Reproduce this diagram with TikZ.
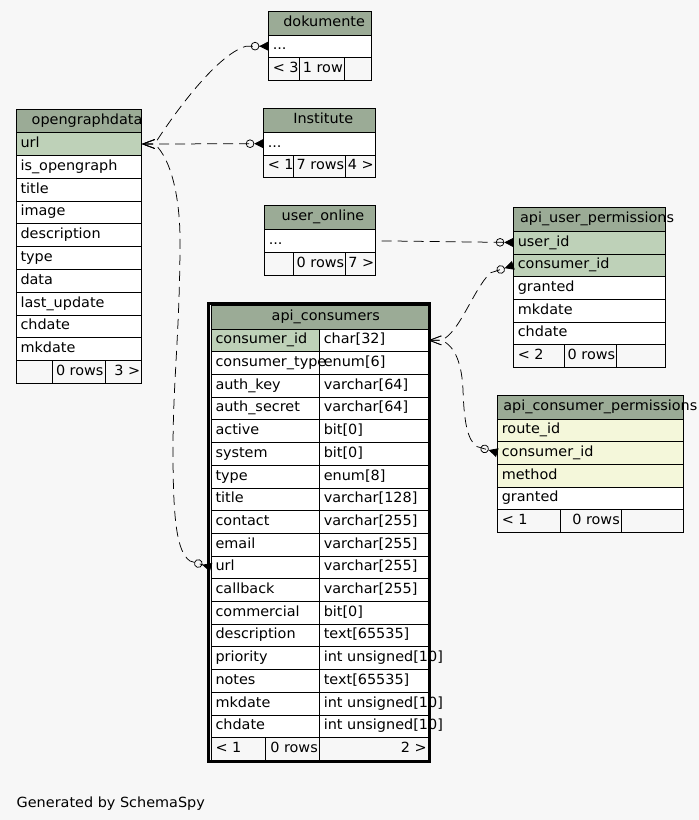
\documentclass[tikz,border=0pt]{standalone}
\usepackage{fontspec}
\setmainfont{DejaVu Sans}[FakeStretch=1.03]
\usetikzlibrary{arrows.meta,calc}
\definecolor{hdr}{HTML}{9BAB96}
\definecolor{pkc}{HTML}{BED1B8}
\definecolor{idx}{HTML}{F4F7DA}
\definecolor{bgc}{HTML}{F7F7F7}
\pgfdeclarelayer{cells}
\pgfsetlayers{cells,main}
\tikzset{
  cellbox/.style={draw=black, line width=0.75pt, anchor=north west, inner sep=0pt, outer sep=0pt},
  celltxt/.style={inner sep=0pt, outer sep=0pt, anchor=west, text height=10.5pt, text depth=3.5pt, font=\fontsize{14}{16}\selectfont},
  rel/.style={draw=black, line width=0.75pt, dash pattern=on 10pt off 6pt},
  relarrows/.style={arrows={Straight Barb[length=12pt,width=9pt,line width=0.75pt]-Circle[open,length=8.5pt,width=8.5pt,line width=0.75pt] Triangle[reversed,length=9pt,width=9pt]}},
  manyonly/.style={arrows={-Circle[open,length=8.5pt,width=8.5pt,line width=0.75pt] Triangle[reversed,length=9pt,width=9pt]}}
}
% cell: name, x1, y1, x2, y2, fill, text (left aligned)
\newcommand\tcell[7]{%
  \pgfmathsetmacro\cw{#4-#2}\pgfmathsetmacro\ch{#5-#3}%
  \begin{pgfonlayer}{cells}\node[cellbox,fill=#6,minimum width=\cw pt,minimum height=\ch pt] (#1) at (#2,#3) {};\end{pgfonlayer}%
  \node[celltxt] (#1-t) at ([xshift=4.5pt]#1.west) {#7};}
% footer cell, right aligned text
\newcommand\rcell[6]{%
  \pgfmathsetmacro\cw{#4-#2}\pgfmathsetmacro\ch{#5-#3}%
  \begin{pgfonlayer}{cells}\node[cellbox,fill=bgc,minimum width=\cw pt,minimum height=\ch pt] (#1) at (#2,#3) {};\end{pgfonlayer}%
  \node[celltxt,anchor=east] (#1-t) at ([xshift=-1.5pt]#1.east) {#6};}
% title: name, x1, y1, x2, y2, text x, text
\newcommand\ttitle[7]{%
  \pgfmathsetmacro\cw{#4-#2}\pgfmathsetmacro\ch{#5-#3}\pgfmathsetmacro\cy{(#3+#5)/2}%
  \begin{pgfonlayer}{cells}\node[cellbox,fill=hdr,minimum width=\cw pt,minimum height=\ch pt] (#1) at (#2,#3) {};\end{pgfonlayer}%
  \node[celltxt] (#1-t) at (#6,\cy) {#7};}
\begin{document}
\begin{tikzpicture}[x=1pt,y=-1pt]
\useasboundingbox (0,0) rectangle (699,820);
\begin{pgfonlayer}{cells}\fill[bgc] (0,0) rectangle (699,820);\end{pgfonlayer}

% dokumente
\ttitle{doku-h}{268.3}{11}{371}{35}{283.3}{dokumente}
\tcell{doku-r1}{268.3}{35}{371}{57.3}{white}{...}
\tcell{doku-f1}{268.3}{57.3}{299.7}{80.3}{bgc}{< 3}
\rcell{doku-f2}{299.7}{57.3}{344.3}{80.3}{1 row}
\rcell{doku-f3}{344.3}{57.3}{371}{80.3}{}

% Institute
\ttitle{inst-h}{263.3}{108.3}{375.3}{132.3}{293.3}{Institute}
\tcell{inst-r1}{263.3}{132.3}{375.3}{155}{white}{...}
\tcell{inst-f1}{263.3}{155}{293.3}{177.3}{bgc}{< 1}
\rcell{inst-f2}{293.3}{155}{345.7}{177.3}{7 rows}
\rcell{inst-f3}{345.7}{155}{375.3}{177.3}{4 >}

% opengraphdata
\ttitle{ogd-h}{16}{109}{141.7}{132.7}{31.7}{opengraphdata}
\tcell{ogd-r1}{16}{132.7}{141.7}{155.3}{pkc}{url}
\tcell{ogd-r2}{16}{155.3}{141.7}{178.7}{white}{is\_opengraph}
\tcell{ogd-r3}{16}{178.7}{141.7}{201}{white}{title}
\tcell{ogd-r4}{16}{201}{141.7}{223.7}{white}{image}
\tcell{ogd-r5}{16}{223.7}{141.7}{246.7}{white}{description}
\tcell{ogd-r6}{16}{246.7}{141.7}{269.3}{white}{type}
\tcell{ogd-r7}{16}{269.3}{141.7}{292}{white}{data}
\tcell{ogd-r8}{16}{292}{141.7}{315}{white}{last\_update}
\tcell{ogd-r9}{16}{315}{141.7}{337.7}{white}{chdate}
\tcell{ogd-r10}{16}{337.7}{141.7}{360.3}{white}{mkdate}
\tcell{ogd-f1}{16}{360.3}{52.7}{383.3}{bgc}{}
\rcell{ogd-f2}{52.7}{360.3}{105}{383.3}{0 rows}
\rcell{ogd-f3}{105}{360.3}{141.7}{383.3}{3 >}

% user_online
\ttitle{uo-h}{264.3}{205}{375.7}{229.3}{281.7}{user\_online}
\tcell{uo-r1}{264.3}{229.3}{375.7}{252.3}{white}{...}
\tcell{uo-f1}{264.3}{252.3}{293.3}{275}{bgc}{}
\rcell{uo-f2}{293.3}{252.3}{345.7}{275}{0 rows}
\rcell{uo-f3}{345.7}{252.3}{375.7}{275}{7 >}

% api_user_permissions
\ttitle{aup-h}{513.3}{207.3}{665}{231}{520}{api\_user\_permissions}
\tcell{aup-r1}{513.3}{231}{665}{254}{pkc}{user\_id}
\tcell{aup-r2}{513.3}{254}{665}{276.7}{pkc}{consumer\_id}
\tcell{aup-r3}{513.3}{276.7}{665}{299.3}{white}{granted}
\tcell{aup-r4}{513.3}{299.3}{665}{322}{white}{mkdate}
\tcell{aup-r5}{513.3}{322}{665}{344.7}{white}{chdate}
\tcell{aup-f1}{513.3}{344.7}{564}{367.3}{bgc}{< 2}
\rcell{aup-f2}{564}{344.7}{616.7}{367.3}{0 rows}
\rcell{aup-f3}{616.7}{344.7}{665}{367.3}{}

% api_consumers
\ttitle{ac-h}{211}{305}{428.3}{329}{271.7}{api\_consumers}
\tcell{ac-n1}{211}{329}{319.3}{351.7}{pkc}{consumer\_id}
\tcell{ac-v1}{319.3}{329}{428.3}{351.7}{white}{char[32]}
\tcell{ac-n2}{211}{351.7}{319.3}{374.4}{white}{consumer\_type}
\tcell{ac-v2}{319.3}{351.7}{428.3}{374.4}{white}{enum[6]}
\tcell{ac-n3}{211}{374.4}{319.3}{397.1}{white}{auth\_key}
\tcell{ac-v3}{319.3}{374.4}{428.3}{397.1}{white}{varchar[64]}
\tcell{ac-n4}{211}{397.1}{319.3}{419.8}{white}{auth\_secret}
\tcell{ac-v4}{319.3}{397.1}{428.3}{419.8}{white}{varchar[64]}
\tcell{ac-n5}{211}{419.8}{319.3}{442.5}{white}{active}
\tcell{ac-v5}{319.3}{419.8}{428.3}{442.5}{white}{bit[0]}
\tcell{ac-n6}{211}{442.5}{319.3}{465.2}{white}{system}
\tcell{ac-v6}{319.3}{442.5}{428.3}{465.2}{white}{bit[0]}
\tcell{ac-n7}{211}{465.2}{319.3}{487.9}{white}{type}
\tcell{ac-v7}{319.3}{465.2}{428.3}{487.9}{white}{enum[8]}
\tcell{ac-n8}{211}{487.9}{319.3}{510.6}{white}{title}
\tcell{ac-v8}{319.3}{487.9}{428.3}{510.6}{white}{varchar[128]}
\tcell{ac-n9}{211}{510.6}{319.3}{533.3}{white}{contact}
\tcell{ac-v9}{319.3}{510.6}{428.3}{533.3}{white}{varchar[255]}
\tcell{ac-n10}{211}{533.3}{319.3}{556}{white}{email}
\tcell{ac-v10}{319.3}{533.3}{428.3}{556}{white}{varchar[255]}
\tcell{ac-n11}{211}{556}{319.3}{578.7}{white}{url}
\tcell{ac-v11}{319.3}{556}{428.3}{578.7}{white}{varchar[255]}
\tcell{ac-n12}{211}{578.7}{319.3}{601.4}{white}{callback}
\tcell{ac-v12}{319.3}{578.7}{428.3}{601.4}{white}{varchar[255]}
\tcell{ac-n13}{211}{601.4}{319.3}{624.1}{white}{commercial}
\tcell{ac-v13}{319.3}{601.4}{428.3}{624.1}{white}{bit[0]}
\tcell{ac-n14}{211}{624.1}{319.3}{646.8}{white}{description}
\tcell{ac-v14}{319.3}{624.1}{428.3}{646.8}{white}{text[65535]}
\tcell{ac-n15}{211}{646.8}{319.3}{669.5}{white}{priority}
\tcell{ac-v15}{319.3}{646.8}{428.3}{669.5}{white}{int unsigned[10]}
\tcell{ac-n16}{211}{669.5}{319.3}{692.2}{white}{notes}
\tcell{ac-v16}{319.3}{669.5}{428.3}{692.2}{white}{text[65535]}
\tcell{ac-n17}{211}{692.2}{319.3}{714.9}{white}{mkdate}
\tcell{ac-v17}{319.3}{692.2}{428.3}{714.9}{white}{int unsigned[10]}
\tcell{ac-n18}{211}{714.9}{319.3}{737.6}{white}{chdate}
\tcell{ac-v18}{319.3}{714.9}{428.3}{737.6}{white}{int unsigned[10]}
\tcell{ac-f1}{211}{737.6}{265.3}{760}{bgc}{< 1}
\rcell{ac-f2}{265.3}{737.6}{319.3}{760}{0 rows}
\rcell{ac-f3}{319.3}{737.6}{428.3}{760}{2 >}
\draw[line width=2.3pt] (208.6,303.4) rectangle (429.5,761.4);

% api_consumer_permissions
\ttitle{acp-h}{497.3}{395}{683.3}{419}{503.3}{api\_consumer\_permissions}
\tcell{acp-r1}{497.3}{419}{683.3}{441.3}{idx}{route\_id}
\tcell{acp-r2}{497.3}{441.3}{683.3}{464}{idx}{consumer\_id}
\tcell{acp-r3}{497.3}{464}{683.3}{487}{idx}{method}
\tcell{acp-r4}{497.3}{487}{683.3}{509.7}{white}{granted}
\tcell{acp-f1}{497.3}{509.7}{560.7}{532.3}{bgc}{< 1}
\rcell{acp-f2}{560.7}{509.7}{621.3}{532.3}{0 rows}
\rcell{acp-f3}{621.3}{509.7}{683.3}{532.3}{}

% connectors
\draw[rel,relarrows] (ogd-r1.east) -- ++(13,0) .. controls (170,120) and (215,55) .. ($(doku-r1.west)+(-22,0)$) -- (doku-r1.west);
\draw[rel,relarrows] (ogd-r1.east) -- ++(13,0) -- (inst-r1.west);
\draw[rel,relarrows] (ogd-r1.east) -- ++(13,0) .. controls (172,160) and (180,200) .. (180,240) .. controls (180,330) and (173,380) .. (173,450) .. controls (173,522) and (177,552) .. (190,561) -- (ac-n11.west);
\draw[rel,manyonly,shorten <=6pt] (uo-r1.east) -- (aup-r1.west);
\draw[rel,relarrows] (ac-v1.east) -- ++(13,0) .. controls (460,332) and (472,292) .. (490,273) -- (aup-r2.west);
\draw[rel,relarrows] (ac-v1.east) -- ++(13,0) .. controls (456,346) and (462,366) .. (463,390) .. controls (464,420) and (467,440) .. (477,446.6) -- (acp-r2.west);

\node[celltxt,anchor=base west] (gen) at (16.7,807.3) {Generated by SchemaSpy};
\end{tikzpicture}
\end{document}
